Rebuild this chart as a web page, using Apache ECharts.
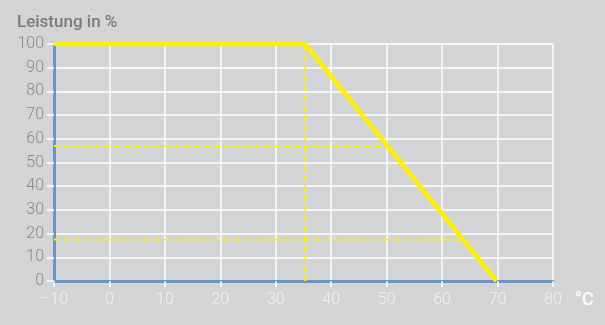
<!DOCTYPE html>
<html lang="de">
	<head>
		<meta charset="utf-8" />
		<title>Leistung</title>
		<style>
			html, body { margin: 0; padding: 0; background: #d3d4d6; }
			#ec { width: 605px; height: 325px; }
		</style>
	</head>
	<body>
		<div id="ec"></div>
		<script src="https://cdn.jsdelivr.net/npm/echarts@6/dist/echarts.min.js"></script>
		<script type="text/javascript">
			// derating curve: temperature (°C) -> Leistung (%)
			const curveTemp = [-10, 35.3, 69.8];
			const curvePower = [100, 100, 0];
			// dashed helper lines
			const vLineTemp = 35.3;
			const hLine1 = { power: 57, fromTemp: -10, toTemp: 50 };
			const hLine2 = { power: 17.5, fromTemp: -10, toTemp: 63.9 };

			const yellow = '#fff000';
			const axisBlue = '#6a94c4';

			const dashed = (data) => ({
				type: 'line',
				data,
				symbol: 'none',
				silent: true,
				lineStyle: { color: yellow, width: 2, type: [6, 4] },
				z: 3,
			});

			const ec = echarts.init(document.getElementById('ec'));
			ec.setOption({
				backgroundColor: '#d3d4d6',
				animation: false,
				title: {
					text: 'Leistung in %',
					left: 12,
					top: 9,
					textStyle: { fontFamily: 'Roboto', fontSize: 17, fontWeight: 500, color: '#7a7a7a' },
				},
				grid: { left: 54, right: 52, top: 44, bottom: 44 },
				xAxis: {
					type: 'value',
					min: -10,
					max: 80,
					interval: 10,
					name: '°C',
					nameLocation: 'end',
					nameGap: 22,
					nameTextStyle: {
						fontFamily: 'Roboto',
						fontSize: 18,
						fontWeight: 500,
						color: '#ffffff',
						verticalAlign: 'top',
						padding: [10, 0, 0, 0],
					},
					axisLine: { onZero: false, lineStyle: { color: axisBlue, width: 3 } },
					axisTick: { show: true, length: 6, lineStyle: { color: '#ffffff', width: 1.5 } },
					axisLabel: {
						margin: 11,
						fontFamily: 'Roboto',
						fontSize: 16,
						fontWeight: 300,
						color: '#f2f2f2',
						formatter: (v) => String(v).replace('-', '–'),
					},
					splitLine: { show: true, lineStyle: { color: '#ffffff', width: 1.5 } },
				},
				yAxis: {
					type: 'value',
					min: 0,
					max: 100,
					interval: 10,
					axisLine: { show: true, onZero: false, lineStyle: { color: axisBlue, width: 3 } },
					axisTick: { show: true, length: 7, lineStyle: { color: '#ffffff', width: 1.5 } },
					axisLabel: { margin: 10, fontFamily: 'Roboto', fontSize: 16, fontWeight: 300, color: '#8a8a8a' },
					splitLine: { show: true, lineStyle: { color: '#ffffff', width: 1.5 } },
				},
				series: [
					dashed([[vLineTemp, 0], [vLineTemp, 100]]),
					dashed([[hLine1.fromTemp, hLine1.power], [hLine1.toTemp, hLine1.power]]),
					dashed([[hLine2.fromTemp, hLine2.power], [hLine2.toTemp, hLine2.power]]),
					{
						type: 'line',
						data: curveTemp.map((t, i) => [t, curvePower[i]]),
						symbol: 'none',
						lineStyle: { color: yellow, width: 4.5, cap: 'butt', join: 'miter' },
						z: 4,
					},
				],
			});
		</script>
	</body>
</html>
